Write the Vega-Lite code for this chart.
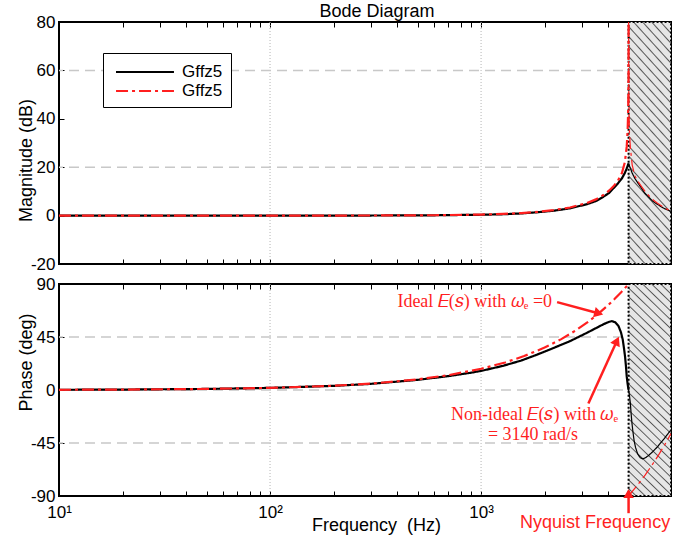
{
  "$schema": "https://vega.github.io/schema/vega-lite/v6.json",
  "padding": {"left": 16, "top": 2, "right": 5, "bottom": 0},
  "bounds": "flush",
  "spacing": 20,
  "config": {
    "font": "Liberation Sans",
    "view": {"stroke": "black", "strokeWidth": 2},
    "axis": {
      "domain": false, "grid": false, "ticks": true, "tickSize": -5, "tickColor": "black", "tickWidth": 1,
      "labelFont": "Liberation Sans", "labelFontSize": 17, "labelColor": "black",
      "titleFont": "Liberation Sans", "titleFontSize": 18, "titleFontWeight": "normal", "titleColor": "black"
    }
  },
  "resolve": {"scale": {"x": "independent", "y": "independent", "color": "independent", "strokeDash": "independent", "strokeWidth": "independent"}},
  "datasets": {
    "decadeLines": [{"f": 100}, {"f": 1000}],
    "aliasBand": [{"f": 5000, "f_end": 7943.28}],
    "magGrid": [{"db": 20}, {"db": 60}],
    "phaseGrid": [{"deg": 45}, {"deg": 0}, {"deg": -45}],
    "magnitude": [
      {"f": 10, "db": 0, "curve": "Non-ideal", "part": "main"},
      {"f": 30, "db": 0, "curve": "Non-ideal", "part": "main"},
      {"f": 100, "db": 0, "curve": "Non-ideal", "part": "main"},
      {"f": 300, "db": 0.03, "curve": "Non-ideal", "part": "main"},
      {"f": 600, "db": 0.13, "curve": "Non-ideal", "part": "main"},
      {"f": 1000, "db": 0.35, "curve": "Non-ideal", "part": "main"},
      {"f": 1270, "db": 0.55, "curve": "Non-ideal", "part": "main"},
      {"f": 1550, "db": 0.9, "curve": "Non-ideal", "part": "main"},
      {"f": 1840, "db": 1.36, "curve": "Non-ideal", "part": "main"},
      {"f": 2200, "db": 2.0, "curve": "Non-ideal", "part": "main"},
      {"f": 2640, "db": 3.0, "curve": "Non-ideal", "part": "main"},
      {"f": 3170, "db": 4.7, "curve": "Non-ideal", "part": "main"},
      {"f": 3500, "db": 6.0, "curve": "Non-ideal", "part": "main"},
      {"f": 3800, "db": 7.8, "curve": "Non-ideal", "part": "main"},
      {"f": 4050, "db": 9.4, "curve": "Non-ideal", "part": "main"},
      {"f": 4240, "db": 11.3, "curve": "Non-ideal", "part": "main"},
      {"f": 4450, "db": 13.3, "curve": "Non-ideal", "part": "main"},
      {"f": 4650, "db": 15.4, "curve": "Non-ideal", "part": "main"},
      {"f": 4800, "db": 17.6, "curve": "Non-ideal", "part": "main"},
      {"f": 4900, "db": 19.5, "curve": "Non-ideal", "part": "main"},
      {"f": 5000, "db": 21.6, "curve": "Non-ideal", "part": "main"},
      {"f": 5000, "db": 21.6, "curve": "Non-ideal", "part": "alias"},
      {"f": 5100, "db": 19.5, "curve": "Non-ideal", "part": "alias"},
      {"f": 5200, "db": 17.6, "curve": "Non-ideal", "part": "alias"},
      {"f": 5350, "db": 15.4, "curve": "Non-ideal", "part": "alias"},
      {"f": 5550, "db": 13.3, "curve": "Non-ideal", "part": "alias"},
      {"f": 5760, "db": 11.3, "curve": "Non-ideal", "part": "alias"},
      {"f": 5950, "db": 9.4, "curve": "Non-ideal", "part": "alias"},
      {"f": 6200, "db": 7.8, "curve": "Non-ideal", "part": "alias"},
      {"f": 6500, "db": 6.0, "curve": "Non-ideal", "part": "alias"},
      {"f": 6830, "db": 4.7, "curve": "Non-ideal", "part": "alias"},
      {"f": 7360, "db": 3.0, "curve": "Non-ideal", "part": "alias"},
      {"f": 7800, "db": 2.0, "curve": "Non-ideal", "part": "alias"},
      {"f": 7943, "db": 1.85, "curve": "Non-ideal", "part": "alias"},
      {"f": 10, "db": 0, "curve": "Ideal", "part": "main"},
      {"f": 30, "db": 0, "curve": "Ideal", "part": "main"},
      {"f": 100, "db": 0, "curve": "Ideal", "part": "main"},
      {"f": 300, "db": 0.04, "curve": "Ideal", "part": "main"},
      {"f": 600, "db": 0.15, "curve": "Ideal", "part": "main"},
      {"f": 1000, "db": 0.43, "curve": "Ideal", "part": "main"},
      {"f": 1270, "db": 0.7, "curve": "Ideal", "part": "main"},
      {"f": 1550, "db": 1.05, "curve": "Ideal", "part": "main"},
      {"f": 1840, "db": 1.5, "curve": "Ideal", "part": "main"},
      {"f": 2200, "db": 2.25, "curve": "Ideal", "part": "main"},
      {"f": 2640, "db": 3.35, "curve": "Ideal", "part": "main"},
      {"f": 3170, "db": 5.2, "curve": "Ideal", "part": "main"},
      {"f": 3500, "db": 6.7, "curve": "Ideal", "part": "main"},
      {"f": 3800, "db": 8.5, "curve": "Ideal", "part": "main"},
      {"f": 4050, "db": 10.4, "curve": "Ideal", "part": "main"},
      {"f": 4240, "db": 12.1, "curve": "Ideal", "part": "main"},
      {"f": 4450, "db": 14.4, "curve": "Ideal", "part": "main"},
      {"f": 4650, "db": 17.6, "curve": "Ideal", "part": "main"},
      {"f": 4800, "db": 22.0, "curve": "Ideal", "part": "main"},
      {"f": 4900, "db": 28.5, "curve": "Ideal", "part": "main"},
      {"f": 4950, "db": 35.5, "curve": "Ideal", "part": "main"},
      {"f": 4980, "db": 44, "curve": "Ideal", "part": "main"},
      {"f": 4995, "db": 56, "curve": "Ideal", "part": "main"},
      {"f": 5000, "db": 80, "curve": "Ideal", "part": "main"},
      {"f": 5000, "db": 80, "curve": "Ideal", "part": "alias"},
      {"f": 5005, "db": 56, "curve": "Ideal", "part": "alias"},
      {"f": 5020, "db": 44, "curve": "Ideal", "part": "alias"},
      {"f": 5050, "db": 34, "curve": "Ideal", "part": "alias"},
      {"f": 5100, "db": 28, "curve": "Ideal", "part": "alias"},
      {"f": 5200, "db": 21, "curve": "Ideal", "part": "alias"},
      {"f": 5350, "db": 16.5, "curve": "Ideal", "part": "alias"},
      {"f": 5550, "db": 14, "curve": "Ideal", "part": "alias"},
      {"f": 5760, "db": 12, "curve": "Ideal", "part": "alias"},
      {"f": 5950, "db": 10.3, "curve": "Ideal", "part": "alias"},
      {"f": 6200, "db": 8.5, "curve": "Ideal", "part": "alias"},
      {"f": 6500, "db": 6.7, "curve": "Ideal", "part": "alias"},
      {"f": 6830, "db": 5.2, "curve": "Ideal", "part": "alias"},
      {"f": 7360, "db": 3.3, "curve": "Ideal", "part": "alias"},
      {"f": 7800, "db": 2.2, "curve": "Ideal", "part": "alias"},
      {"f": 7943, "db": 1.9, "curve": "Ideal", "part": "alias"}
    ],
    "phase": [
      {"f": 10, "deg": 0.18, "curve": "Non-ideal", "part": "main"},
      {"f": 20, "deg": 0.36, "curve": "Non-ideal", "part": "main"},
      {"f": 50, "deg": 0.9, "curve": "Non-ideal", "part": "main"},
      {"f": 100, "deg": 1.8, "curve": "Non-ideal", "part": "main"},
      {"f": 200, "deg": 3.5, "curve": "Non-ideal", "part": "main"},
      {"f": 300, "deg": 5.2, "curve": "Non-ideal", "part": "main"},
      {"f": 500, "deg": 8.6, "curve": "Non-ideal", "part": "main"},
      {"f": 700, "deg": 11.8, "curve": "Non-ideal", "part": "main"},
      {"f": 890, "deg": 14.6, "curve": "Non-ideal", "part": "main"},
      {"f": 1000, "deg": 16.2, "curve": "Non-ideal", "part": "main"},
      {"f": 1270, "deg": 20.5, "curve": "Non-ideal", "part": "main"},
      {"f": 1550, "deg": 25, "curve": "Non-ideal", "part": "main"},
      {"f": 1840, "deg": 30, "curve": "Non-ideal", "part": "main"},
      {"f": 2200, "deg": 35.6, "curve": "Non-ideal", "part": "main"},
      {"f": 2640, "deg": 41.5, "curve": "Non-ideal", "part": "main"},
      {"f": 3170, "deg": 48.5, "curve": "Non-ideal", "part": "main"},
      {"f": 3500, "deg": 52.5, "curve": "Non-ideal", "part": "main"},
      {"f": 3800, "deg": 55.8, "curve": "Non-ideal", "part": "main"},
      {"f": 4000, "deg": 57.6, "curve": "Non-ideal", "part": "main"},
      {"f": 4160, "deg": 58.5, "curve": "Non-ideal", "part": "main"},
      {"f": 4320, "deg": 57.5, "curve": "Non-ideal", "part": "main"},
      {"f": 4480, "deg": 54.3, "curve": "Non-ideal", "part": "main"},
      {"f": 4600, "deg": 49, "curve": "Non-ideal", "part": "main"},
      {"f": 4690, "deg": 43, "curve": "Non-ideal", "part": "main"},
      {"f": 4760, "deg": 35, "curve": "Non-ideal", "part": "main"},
      {"f": 4810, "deg": 28.5, "curve": "Non-ideal", "part": "main"},
      {"f": 4860, "deg": 20, "curve": "Non-ideal", "part": "main"},
      {"f": 4900, "deg": 11.5, "curve": "Non-ideal", "part": "main"},
      {"f": 4950, "deg": 5, "curve": "Non-ideal", "part": "main"},
      {"f": 5000, "deg": 0, "curve": "Non-ideal", "part": "main"},
      {"f": 5000, "deg": 0, "curve": "Non-ideal", "part": "alias"},
      {"f": 5050, "deg": -5, "curve": "Non-ideal", "part": "alias"},
      {"f": 5100, "deg": -11.5, "curve": "Non-ideal", "part": "alias"},
      {"f": 5140, "deg": -20, "curve": "Non-ideal", "part": "alias"},
      {"f": 5190, "deg": -28.5, "curve": "Non-ideal", "part": "alias"},
      {"f": 5240, "deg": -35, "curve": "Non-ideal", "part": "alias"},
      {"f": 5310, "deg": -43, "curve": "Non-ideal", "part": "alias"},
      {"f": 5400, "deg": -49, "curve": "Non-ideal", "part": "alias"},
      {"f": 5520, "deg": -54.3, "curve": "Non-ideal", "part": "alias"},
      {"f": 5680, "deg": -57.5, "curve": "Non-ideal", "part": "alias"},
      {"f": 5840, "deg": -58.5, "curve": "Non-ideal", "part": "alias"},
      {"f": 6000, "deg": -57.6, "curve": "Non-ideal", "part": "alias"},
      {"f": 6200, "deg": -55.8, "curve": "Non-ideal", "part": "alias"},
      {"f": 6500, "deg": -52.5, "curve": "Non-ideal", "part": "alias"},
      {"f": 6830, "deg": -48.5, "curve": "Non-ideal", "part": "alias"},
      {"f": 7360, "deg": -41.5, "curve": "Non-ideal", "part": "alias"},
      {"f": 7800, "deg": -35.6, "curve": "Non-ideal", "part": "alias"},
      {"f": 7943, "deg": -34, "curve": "Non-ideal", "part": "alias"},
      {"f": 10, "deg": 0.18, "curve": "Ideal", "part": "main"},
      {"f": 20, "deg": 0.36, "curve": "Ideal", "part": "main"},
      {"f": 50, "deg": 0.9, "curve": "Ideal", "part": "main"},
      {"f": 100, "deg": 1.8, "curve": "Ideal", "part": "main"},
      {"f": 200, "deg": 3.6, "curve": "Ideal", "part": "main"},
      {"f": 300, "deg": 5.4, "curve": "Ideal", "part": "main"},
      {"f": 500, "deg": 9, "curve": "Ideal", "part": "main"},
      {"f": 700, "deg": 12.6, "curve": "Ideal", "part": "main"},
      {"f": 1000, "deg": 18, "curve": "Ideal", "part": "main"},
      {"f": 1300, "deg": 23.4, "curve": "Ideal", "part": "main"},
      {"f": 1600, "deg": 28.8, "curve": "Ideal", "part": "main"},
      {"f": 2000, "deg": 36, "curve": "Ideal", "part": "main"},
      {"f": 2400, "deg": 43.2, "curve": "Ideal", "part": "main"},
      {"f": 2800, "deg": 50.4, "curve": "Ideal", "part": "main"},
      {"f": 3200, "deg": 57.6, "curve": "Ideal", "part": "main"},
      {"f": 3600, "deg": 64.8, "curve": "Ideal", "part": "main"},
      {"f": 4000, "deg": 72, "curve": "Ideal", "part": "main"},
      {"f": 4300, "deg": 77.4, "curve": "Ideal", "part": "main"},
      {"f": 4600, "deg": 82.8, "curve": "Ideal", "part": "main"},
      {"f": 4800, "deg": 86.4, "curve": "Ideal", "part": "main"},
      {"f": 5000, "deg": 90, "curve": "Ideal", "part": "main"},
      {"f": 5000, "deg": -90, "curve": "Ideal", "part": "alias"},
      {"f": 5500, "deg": -81, "curve": "Ideal", "part": "alias"},
      {"f": 6000, "deg": -72, "curve": "Ideal", "part": "alias"},
      {"f": 6500, "deg": -63, "curve": "Ideal", "part": "alias"},
      {"f": 7000, "deg": -54, "curve": "Ideal", "part": "alias"},
      {"f": 7500, "deg": -45, "curve": "Ideal", "part": "alias"},
      {"f": 7943, "deg": -37, "curve": "Ideal", "part": "alias"}
    ],
    "arrows": [
      {"arrow": "ideal", "f_tail": 2292, "deg_tail": 74.6, "f_head": 3554, "deg_head": 65.4},
      {"arrow": "nonideal", "f_tail": 3225, "deg_tail": -11.4, "f_head": 4373, "deg_head": 40.5},
      {"arrow": "nyquist", "f_tail": 5000, "deg_tail": -104.6, "f_head": 5000, "deg_head": -89.1}
    ],
    "notes": [
      {"f": 2171, "deg": 74.6, "note": "Ideal 𝐸(𝑠) with  𝜔ₑ =0"},
      {"f": 4460, "deg": -21.4, "note": "Non-ideal 𝐸(𝑠) with  𝜔ₑ"},
      {"f": 2882, "deg": -38.6, "note": "= 3140 rad/s"}
    ],
    "nyquistLabel": [{"f": 3470, "deg": -113.1, "note": "Nyquist Frequency"}]
  },
  "vconcat": [
    {
      "width": 612,
      "height": 242,
      "title": {"text": "Bode Diagram", "fontSize": 18, "fontWeight": "normal", "font": "Liberation Sans", "color": "black", "anchor": "middle", "frame": "group", "dx": 12, "offset": -8},
      "resolve": {"axis": {"x": "independent", "y": "independent"}},
      "layer": [
        {
          "data": {"name": "decadeLines"},
          "mark": {"type": "rule", "color": "#b5b5b5", "strokeDash": [1, 2], "strokeWidth": 1},
          "encoding": {
            "x": {"field": "f", "type": "quantitative", "scale": {"type": "log", "domain": [10, 7943.28], "nice": false},
              "axis": {"orient": "bottom", "values": [10,20,30,40,50,60,70,80,90,100,200,300,400,500,600,700,800,900,1000,2000,3000,4000,5000,6000,7000], "labels": false, "title": null}}
          }
        },
        {
          "data": {"name": "magGrid"},
          "mark": {"type": "rule", "color": "#c8c8c8", "strokeDash": [10, 6], "strokeWidth": 1.5},
          "encoding": {
            "y": {"field": "db", "type": "quantitative", "scale": {"domain": [-20, 80], "nice": false, "zero": false},
              "axis": {"orient": "left", "values": [-20, 0, 20, 40, 60, 80], "title": "Magnitude (dB)", "titleY": 138, "labelExpr": "'' + datum.value", "labelPadding": 9, "titlePadding": -5}}
          }
        },
        {
          "data": {"name": "aliasBand"},
          "mark": {
            "type": "rect", "stroke": "black", "strokeDash": [2, 2], "strokeWidth": 2,
            "fill": {"gradient": "linear", "x1": 0, "y1": 1, "x2": 0.2221, "y2": -0.1505, "stops": [
              {"offset": 0, "color": "#e6e6e6"},
              {"offset": 0.0241, "color": "#e6e6e6"}, {"offset": 0.0293, "color": "#555555"}, {"offset": 0.0345, "color": "#e6e6e6"},
              {"offset": 0.0586, "color": "#e6e6e6"}, {"offset": 0.0638, "color": "#555555"}, {"offset": 0.0690, "color": "#e6e6e6"},
              {"offset": 0.0931, "color": "#e6e6e6"}, {"offset": 0.0983, "color": "#555555"}, {"offset": 0.1034, "color": "#e6e6e6"},
              {"offset": 0.1276, "color": "#e6e6e6"}, {"offset": 0.1328, "color": "#555555"}, {"offset": 0.1379, "color": "#e6e6e6"},
              {"offset": 0.1621, "color": "#e6e6e6"}, {"offset": 0.1672, "color": "#555555"}, {"offset": 0.1724, "color": "#e6e6e6"},
              {"offset": 0.1966, "color": "#e6e6e6"}, {"offset": 0.2017, "color": "#555555"}, {"offset": 0.2069, "color": "#e6e6e6"},
              {"offset": 0.2310, "color": "#e6e6e6"}, {"offset": 0.2362, "color": "#555555"}, {"offset": 0.2414, "color": "#e6e6e6"},
              {"offset": 0.2655, "color": "#e6e6e6"}, {"offset": 0.2707, "color": "#555555"}, {"offset": 0.2759, "color": "#e6e6e6"},
              {"offset": 0.3000, "color": "#e6e6e6"}, {"offset": 0.3052, "color": "#555555"}, {"offset": 0.3103, "color": "#e6e6e6"},
              {"offset": 0.3345, "color": "#e6e6e6"}, {"offset": 0.3397, "color": "#555555"}, {"offset": 0.3448, "color": "#e6e6e6"},
              {"offset": 0.3690, "color": "#e6e6e6"}, {"offset": 0.3741, "color": "#555555"}, {"offset": 0.3793, "color": "#e6e6e6"},
              {"offset": 0.4034, "color": "#e6e6e6"}, {"offset": 0.4086, "color": "#555555"}, {"offset": 0.4138, "color": "#e6e6e6"},
              {"offset": 0.4379, "color": "#e6e6e6"}, {"offset": 0.4431, "color": "#555555"}, {"offset": 0.4483, "color": "#e6e6e6"},
              {"offset": 0.4724, "color": "#e6e6e6"}, {"offset": 0.4776, "color": "#555555"}, {"offset": 0.4828, "color": "#e6e6e6"},
              {"offset": 0.5069, "color": "#e6e6e6"}, {"offset": 0.5121, "color": "#555555"}, {"offset": 0.5172, "color": "#e6e6e6"},
              {"offset": 0.5414, "color": "#e6e6e6"}, {"offset": 0.5466, "color": "#555555"}, {"offset": 0.5517, "color": "#e6e6e6"},
              {"offset": 0.5759, "color": "#e6e6e6"}, {"offset": 0.5810, "color": "#555555"}, {"offset": 0.5862, "color": "#e6e6e6"},
              {"offset": 0.6103, "color": "#e6e6e6"}, {"offset": 0.6155, "color": "#555555"}, {"offset": 0.6207, "color": "#e6e6e6"},
              {"offset": 0.6448, "color": "#e6e6e6"}, {"offset": 0.6500, "color": "#555555"}, {"offset": 0.6552, "color": "#e6e6e6"},
              {"offset": 0.6793, "color": "#e6e6e6"}, {"offset": 0.6845, "color": "#555555"}, {"offset": 0.6897, "color": "#e6e6e6"},
              {"offset": 0.7138, "color": "#e6e6e6"}, {"offset": 0.7190, "color": "#555555"}, {"offset": 0.7241, "color": "#e6e6e6"},
              {"offset": 0.7483, "color": "#e6e6e6"}, {"offset": 0.7534, "color": "#555555"}, {"offset": 0.7586, "color": "#e6e6e6"},
              {"offset": 0.7828, "color": "#e6e6e6"}, {"offset": 0.7879, "color": "#555555"}, {"offset": 0.7931, "color": "#e6e6e6"},
              {"offset": 0.8172, "color": "#e6e6e6"}, {"offset": 0.8224, "color": "#555555"}, {"offset": 0.8276, "color": "#e6e6e6"},
              {"offset": 0.8517, "color": "#e6e6e6"}, {"offset": 0.8569, "color": "#555555"}, {"offset": 0.8621, "color": "#e6e6e6"},
              {"offset": 0.8862, "color": "#e6e6e6"}, {"offset": 0.8914, "color": "#555555"}, {"offset": 0.8966, "color": "#e6e6e6"},
              {"offset": 0.9207, "color": "#e6e6e6"}, {"offset": 0.9259, "color": "#555555"}, {"offset": 0.9310, "color": "#e6e6e6"},
              {"offset": 0.9552, "color": "#e6e6e6"}, {"offset": 0.9603, "color": "#555555"}, {"offset": 0.9655, "color": "#e6e6e6"},
              {"offset": 0.9897, "color": "#e6e6e6"}, {"offset": 0.9948, "color": "#555555"}, {"offset": 1, "color": "#e6e6e6"}
            ]}
          },
          "encoding": {
            "x": {"field": "f", "type": "quantitative", "axis": {"orient": "top", "values": [10,20,30,40,50,60,70,80,90,100,200,300,400,500,600,700,800,900,1000,2000,3000,4000,5000,6000,7000], "labels": false, "title": null}},
            "x2": {"field": "f_end"},
            "y": {"datum": -20, "type": "quantitative", "axis": {"orient": "right", "values": [-20, 0, 20, 40, 60, 80], "labels": false, "title": null}},
            "y2": {"datum": 80}
          }
        },
        {
          "data": {"name": "magnitude"},
          "transform": [{"filter": "datum.curve == 'Non-ideal'"}],
          "mark": {"type": "line", "clip": true},
          "encoding": {
            "x": {"field": "f", "type": "quantitative", "axis": null},
            "y": {"field": "db", "type": "quantitative", "axis": null},
            "color": {"field": "curve", "type": "nominal", "scale": {"domain": ["Non-ideal", "Ideal"], "range": ["black", "#ff1f1f"]},
              "legend": {"orient": "none", "legendX": 44, "legendY": 31, "title": null, "labelExpr": "'Gffz5'", "symbolType": "M-3,0H3", "symbolSize": 373, "symbolStrokeWidth": 2, "symbolOffset": 23, "padding": 8, "rowPadding": 0, "strokeColor": "black", "fillColor": "white", "labelFontSize": 17, "labelFont": "Liberation Sans", "labelColor": "black", "labelOffset": 26}},
            "strokeDash": {"field": "curve", "type": "nominal", "scale": {"domain": ["Non-ideal", "Ideal"], "range": [[1, 0], [12, 4, 3, 4]]},
              "legend": {"orient": "none", "legendX": 44, "legendY": 31, "title": null, "labelExpr": "'Gffz5'", "symbolType": "M-3,0H3", "symbolSize": 373, "symbolStrokeWidth": 2, "symbolOffset": 23, "padding": 8, "rowPadding": 0, "strokeColor": "black", "fillColor": "white", "labelFontSize": 17, "labelFont": "Liberation Sans", "labelColor": "black", "labelOffset": 26}},
            "strokeWidth": {"field": "part", "type": "ordinal", "scale": {"domain": ["main", "alias"], "range": [2.2, 1.2]}, "legend": null},
            "detail": {"field": "part"}
          }
        },
        {
          "data": {"name": "magnitude"},
          "transform": [{"filter": "datum.curve == 'Ideal'"}],
          "mark": {"type": "line", "clip": true},
          "encoding": {
            "x": {"field": "f", "type": "quantitative", "axis": null},
            "y": {"field": "db", "type": "quantitative", "axis": null},
            "color": {"field": "curve", "type": "nominal"},
            "strokeDash": {"field": "curve", "type": "nominal"},
            "strokeWidth": {"field": "part", "type": "ordinal", "legend": null},
            "detail": {"field": "part"}
          }
        }
      ]
    },
    {
      "width": 612,
      "height": 212,
      "resolve": {"axis": {"x": "independent", "y": "independent"}},
      "layer": [
        {
          "data": {"name": "decadeLines"},
          "mark": {"type": "rule", "color": "#b5b5b5", "strokeDash": [1, 2], "strokeWidth": 1},
          "encoding": {
            "x": {"field": "f", "type": "quantitative", "scale": {"type": "log", "domain": [10, 7943.28], "nice": false},
              "axis": {"orient": "bottom", "values": [10,20,30,40,50,60,70,80,90,100,200,300,400,500,600,700,800,900,1000,2000,3000,4000,5000,6000,7000],
                "labelExpr": "datum.value == 10 ? '10¹' : datum.value == 100 ? '10²' : datum.value == 1000 ? '10³' : ''",
                "labelFlush": false, "labelOverlap": false, "labelPadding": 13, "title": "Frequency\u00a0 (Hz)", "titleX": 317, "titlePadding": -4}}
          }
        },
        {
          "data": {"name": "phaseGrid"},
          "mark": {"type": "rule", "color": "#c8c8c8", "strokeDash": [10, 6], "strokeWidth": 1.5},
          "encoding": {
            "y": {"field": "deg", "type": "quantitative", "scale": {"domain": [-90, 90], "nice": false, "zero": false},
              "axis": {"orient": "left", "values": [-90, -45, 0, 45, 90], "title": "Phase (deg)", "titleY": 78, "labelExpr": "'' + datum.value", "labelPadding": 9, "titlePadding": -5}}
          }
        },
        {
          "data": {"name": "aliasBand"},
          "mark": {
            "type": "rect", "stroke": "black", "strokeDash": [2, 2], "strokeWidth": 2,
            "fill": {"gradient": "linear", "x1": 0, "y1": 1, "x2": 0.2221, "y2": -0.1505, "stops": [
              {"offset": 0, "color": "#e6e6e6"},
              {"offset": 0.0241, "color": "#e6e6e6"}, {"offset": 0.0293, "color": "#555555"}, {"offset": 0.0345, "color": "#e6e6e6"},
              {"offset": 0.0586, "color": "#e6e6e6"}, {"offset": 0.0638, "color": "#555555"}, {"offset": 0.0690, "color": "#e6e6e6"},
              {"offset": 0.0931, "color": "#e6e6e6"}, {"offset": 0.0983, "color": "#555555"}, {"offset": 0.1034, "color": "#e6e6e6"},
              {"offset": 0.1276, "color": "#e6e6e6"}, {"offset": 0.1328, "color": "#555555"}, {"offset": 0.1379, "color": "#e6e6e6"},
              {"offset": 0.1621, "color": "#e6e6e6"}, {"offset": 0.1672, "color": "#555555"}, {"offset": 0.1724, "color": "#e6e6e6"},
              {"offset": 0.1966, "color": "#e6e6e6"}, {"offset": 0.2017, "color": "#555555"}, {"offset": 0.2069, "color": "#e6e6e6"},
              {"offset": 0.2310, "color": "#e6e6e6"}, {"offset": 0.2362, "color": "#555555"}, {"offset": 0.2414, "color": "#e6e6e6"},
              {"offset": 0.2655, "color": "#e6e6e6"}, {"offset": 0.2707, "color": "#555555"}, {"offset": 0.2759, "color": "#e6e6e6"},
              {"offset": 0.3000, "color": "#e6e6e6"}, {"offset": 0.3052, "color": "#555555"}, {"offset": 0.3103, "color": "#e6e6e6"},
              {"offset": 0.3345, "color": "#e6e6e6"}, {"offset": 0.3397, "color": "#555555"}, {"offset": 0.3448, "color": "#e6e6e6"},
              {"offset": 0.3690, "color": "#e6e6e6"}, {"offset": 0.3741, "color": "#555555"}, {"offset": 0.3793, "color": "#e6e6e6"},
              {"offset": 0.4034, "color": "#e6e6e6"}, {"offset": 0.4086, "color": "#555555"}, {"offset": 0.4138, "color": "#e6e6e6"},
              {"offset": 0.4379, "color": "#e6e6e6"}, {"offset": 0.4431, "color": "#555555"}, {"offset": 0.4483, "color": "#e6e6e6"},
              {"offset": 0.4724, "color": "#e6e6e6"}, {"offset": 0.4776, "color": "#555555"}, {"offset": 0.4828, "color": "#e6e6e6"},
              {"offset": 0.5069, "color": "#e6e6e6"}, {"offset": 0.5121, "color": "#555555"}, {"offset": 0.5172, "color": "#e6e6e6"},
              {"offset": 0.5414, "color": "#e6e6e6"}, {"offset": 0.5466, "color": "#555555"}, {"offset": 0.5517, "color": "#e6e6e6"},
              {"offset": 0.5759, "color": "#e6e6e6"}, {"offset": 0.5810, "color": "#555555"}, {"offset": 0.5862, "color": "#e6e6e6"},
              {"offset": 0.6103, "color": "#e6e6e6"}, {"offset": 0.6155, "color": "#555555"}, {"offset": 0.6207, "color": "#e6e6e6"},
              {"offset": 0.6448, "color": "#e6e6e6"}, {"offset": 0.6500, "color": "#555555"}, {"offset": 0.6552, "color": "#e6e6e6"},
              {"offset": 0.6793, "color": "#e6e6e6"}, {"offset": 0.6845, "color": "#555555"}, {"offset": 0.6897, "color": "#e6e6e6"},
              {"offset": 0.7138, "color": "#e6e6e6"}, {"offset": 0.7190, "color": "#555555"}, {"offset": 0.7241, "color": "#e6e6e6"},
              {"offset": 0.7483, "color": "#e6e6e6"}, {"offset": 0.7534, "color": "#555555"}, {"offset": 0.7586, "color": "#e6e6e6"},
              {"offset": 0.7828, "color": "#e6e6e6"}, {"offset": 0.7879, "color": "#555555"}, {"offset": 0.7931, "color": "#e6e6e6"},
              {"offset": 0.8172, "color": "#e6e6e6"}, {"offset": 0.8224, "color": "#555555"}, {"offset": 0.8276, "color": "#e6e6e6"},
              {"offset": 0.8517, "color": "#e6e6e6"}, {"offset": 0.8569, "color": "#555555"}, {"offset": 0.8621, "color": "#e6e6e6"},
              {"offset": 0.8862, "color": "#e6e6e6"}, {"offset": 0.8914, "color": "#555555"}, {"offset": 0.8966, "color": "#e6e6e6"},
              {"offset": 0.9207, "color": "#e6e6e6"}, {"offset": 0.9259, "color": "#555555"}, {"offset": 0.9310, "color": "#e6e6e6"},
              {"offset": 0.9552, "color": "#e6e6e6"}, {"offset": 0.9603, "color": "#555555"}, {"offset": 0.9655, "color": "#e6e6e6"},
              {"offset": 0.9897, "color": "#e6e6e6"}, {"offset": 0.9948, "color": "#555555"}, {"offset": 1, "color": "#e6e6e6"}
            ]}
          },
          "encoding": {
            "x": {"field": "f", "type": "quantitative", "axis": {"orient": "top", "values": [10,20,30,40,50,60,70,80,90,100,200,300,400,500,600,700,800,900,1000,2000,3000,4000,5000,6000,7000], "labels": false, "title": null}},
            "x2": {"field": "f_end"},
            "y": {"datum": -90, "type": "quantitative", "axis": {"orient": "right", "values": [-90, -45, 0, 45, 90], "labels": false, "title": null}},
            "y2": {"datum": 90}
          }
        },
        {
          "data": {"name": "phase"},
          "transform": [{"filter": "datum.curve == 'Non-ideal'"}],
          "mark": {"type": "line", "clip": true},
          "encoding": {
            "x": {"field": "f", "type": "quantitative", "axis": null},
            "y": {"field": "deg", "type": "quantitative", "axis": null},
            "color": {"field": "curve", "type": "nominal", "scale": {"domain": ["Non-ideal", "Ideal"], "range": ["black", "#ff1f1f"]}, "legend": null},
            "strokeDash": {"field": "curve", "type": "nominal", "scale": {"domain": ["Non-ideal", "Ideal"], "range": [[1, 0], [12, 4, 3, 4]]}, "legend": null},
            "strokeWidth": {"field": "part", "type": "ordinal", "scale": {"domain": ["main", "alias"], "range": [2.2, 1.2]}, "legend": null},
            "detail": {"field": "part"}
          }
        },
        {
          "data": {"name": "phase"},
          "transform": [{"filter": "datum.curve == 'Ideal'"}],
          "mark": {"type": "line", "clip": true},
          "encoding": {
            "x": {"field": "f", "type": "quantitative", "axis": null},
            "y": {"field": "deg", "type": "quantitative", "axis": null},
            "color": {"field": "curve", "type": "nominal", "legend": null},
            "strokeDash": {"field": "curve", "type": "nominal", "legend": null},
            "strokeWidth": {"field": "part", "type": "ordinal", "legend": null},
            "detail": {"field": "part"}
          }
        },
        {
          "data": {"name": "arrows"},
          "mark": {"type": "rule", "color": "#ff1f1f", "strokeWidth": 2.5},
          "encoding": {
            "x": {"field": "f_tail", "type": "quantitative", "axis": null},
            "y": {"field": "deg_tail", "type": "quantitative", "axis": null},
            "x2": {"field": "f_head"},
            "y2": {"field": "deg_head"}
          }
        },
        {
          "data": {"name": "arrows"},
          "transform": [{"filter": "datum.arrow == 'ideal'"}],
          "mark": {"type": "point", "shape": "triangle", "filled": true, "color": "#ff1f1f", "opacity": 1, "size": 110, "angle": 105},
          "encoding": {"x": {"field": "f_head", "type": "quantitative", "axis": null}, "y": {"field": "deg_head", "type": "quantitative", "axis": null}}
        },
        {
          "data": {"name": "arrows"},
          "transform": [{"filter": "datum.arrow == 'nonideal'"}],
          "mark": {"type": "point", "shape": "triangle", "filled": true, "color": "#ff1f1f", "opacity": 1, "size": 110, "angle": 25},
          "encoding": {"x": {"field": "f_head", "type": "quantitative", "axis": null}, "y": {"field": "deg_head", "type": "quantitative", "axis": null}}
        },
        {
          "data": {"name": "arrows"},
          "transform": [{"filter": "datum.arrow == 'nyquist'"}],
          "mark": {"type": "point", "shape": "triangle", "filled": true, "color": "#ff1f1f", "opacity": 1, "size": 110, "angle": 0},
          "encoding": {"x": {"field": "f_head", "type": "quantitative", "axis": null}, "y": {"field": "deg_head", "type": "quantitative", "axis": null}}
        },
        {
          "data": {"name": "notes"},
          "mark": {"type": "text", "align": "right", "baseline": "middle", "font": "Liberation Serif", "fontSize": 18, "color": "#ff1f1f"},
          "encoding": {"x": {"field": "f", "type": "quantitative", "axis": null}, "y": {"field": "deg", "type": "quantitative", "axis": null}, "text": {"field": "note"}}
        },
        {
          "data": {"name": "nyquistLabel"},
          "mark": {"type": "text", "align": "center", "baseline": "middle", "font": "Liberation Sans", "fontSize": 18, "color": "#ff1f1f"},
          "encoding": {"x": {"field": "f", "type": "quantitative", "axis": null}, "y": {"field": "deg", "type": "quantitative", "axis": null}, "text": {"field": "note"}}
        }
      ]
    }
  ]
}
